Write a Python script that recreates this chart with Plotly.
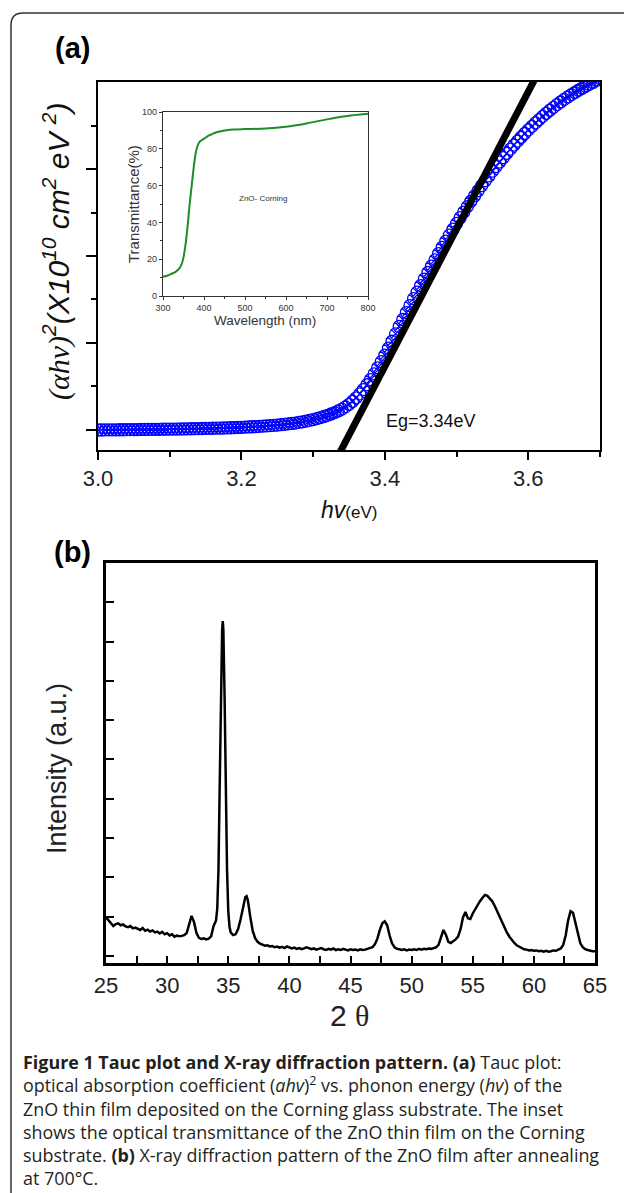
import plotly.graph_objects as go

W, H = 624, 1193
def px(x): return x / W
def py(y): return 1 - y / H

# ---------------- data: (a) Tauc plot ----------------
tauc_hv = [3.000,3.005,3.010,3.015,3.020,3.025,3.030,3.035,3.040,3.045,
           3.050,3.055,3.060,3.065,3.070,3.075,3.080,3.085,3.090,3.095,
           3.100,3.105,3.110,3.115,3.120,3.125,3.130,3.135,3.140,3.145,
           3.150,3.155,3.160,3.165,3.170,3.175,3.180,3.185,3.190,3.195,
           3.200,3.205,3.210,3.215,3.220,3.225,3.230,3.235,3.240,3.245,
           3.250,3.255,3.260,3.265,3.270,3.275,3.280,3.285,3.290,3.295,
           3.300,3.305,3.310,3.315,3.320,3.325,3.330,3.335,3.340,3.345,
           3.350,3.355,3.360,3.365,3.370,3.375,3.380,3.385,3.390,3.395,
           3.400,3.405,3.410,3.415,3.420,3.425,3.430,3.435,3.440,3.445,
           3.450,3.455,3.460,3.465,3.470,3.475,3.480,3.485,3.490,3.495,
           3.500,3.505,3.510,3.515,3.520,3.525,3.530,3.535,3.540,3.545,
           3.550,3.555,3.560,3.565,3.570,3.575,3.580,3.585,3.590,3.595,
           3.600,3.605,3.610,3.615,3.620,3.625,3.630,3.635,3.640,3.645,
           3.650,3.655,3.660,3.665,3.670,3.675,3.680,3.685,3.690,3.695,
           3.700]
tauc_ahv2 = [0.000,0.000,0.001,0.001,0.002,0.002,0.003,0.003,0.004,0.004,
             0.005,0.005,0.006,0.006,0.007,0.007,0.008,0.008,0.009,0.009,
             0.010,0.010,0.011,0.012,0.012,0.013,0.014,0.015,0.016,0.017,
             0.018,0.019,0.020,0.021,0.022,0.023,0.025,0.026,0.028,0.029,
             0.031,0.033,0.035,0.037,0.039,0.041,0.044,0.047,0.050,0.053,
             0.057,0.061,0.065,0.070,0.075,0.080,0.087,0.094,0.102,0.110,
             0.120,0.131,0.142,0.155,0.168,0.184,0.200,0.219,0.240,0.266,
             0.295,0.330,0.370,0.415,0.465,0.520,0.580,0.645,0.715,0.786,
             0.860,0.940,1.020,1.105,1.190,1.270,1.350,1.430,1.510,1.585,
             1.660,1.735,1.810,1.883,1.955,2.028,2.100,2.170,2.240,2.308,
             2.375,2.440,2.505,2.568,2.630,2.690,2.750,2.808,2.865,2.920,
             2.975,3.028,3.080,3.130,3.180,3.228,3.275,3.320,3.365,3.408,
             3.450,3.490,3.530,3.568,3.605,3.640,3.675,3.708,3.740,3.770,
             3.800,3.828,3.855,3.880,3.905,3.928,3.950,3.973,3.995,4.018,
             4.040]
fit_hv = [3.33, 3.62]
fit_ahv2 = [-0.374, 4.205]

# inset: transmittance
inset_wl = [300, 310, 320, 330, 340, 345, 350, 355, 360, 365, 370, 375, 380, 385,
            390, 400, 410, 420, 430, 450, 470, 500, 550, 600, 650, 700, 750, 800]
inset_T = [10.5, 11, 12, 13, 15, 17, 21, 28, 38, 50, 60, 70, 78, 82,
           84, 85.5, 87, 88, 89, 90, 90.5, 90.7, 91, 92, 93.8, 96, 97.8, 99]

# ---------------- data: (b) XRD ----------------
xrd_2theta = [
    25.0,25.2,25.4,25.6,25.8,26.0,26.2,26.4,26.6,26.8,
    27.0,27.2,27.4,27.6,27.8,28.0,28.2,28.4,28.6,28.8,
    29.0,29.2,29.4,29.6,29.8,30.0,30.2,30.4,30.6,30.8,
    31.0,31.2,31.4,31.6,31.8,32.0,32.2,32.4,32.6,32.8,
    33.0,33.2,33.4,33.6,33.8,
    34.0,34.1,34.2,34.3,34.4,34.5,34.55,34.6,34.7,34.8,34.9,35.0,35.1,
    35.2,35.4,35.6,35.8,36.0,36.2,36.4,36.5,36.6,36.8,
    37.0,37.2,37.4,37.6,37.8,38.0,38.2,38.4,38.6,38.8,
    39.0,39.2,39.4,39.6,39.8,40.0,40.2,40.4,40.6,40.8,
    41.0,41.2,41.4,41.6,41.8,42.0,42.2,42.4,42.6,42.8,
    43.0,43.2,43.4,43.6,43.8,44.0,44.2,44.4,44.6,44.8,
    45.0,45.2,45.4,45.6,45.8,46.0,46.2,46.4,46.6,46.8,
    47.0,47.2,47.4,47.6,47.8,48.0,48.2,48.4,48.6,48.8,
    49.0,49.2,49.4,49.6,49.8,50.0,50.2,50.4,50.6,50.8,
    51.0,51.2,51.4,51.6,51.8,52.0,52.2,52.4,52.6,52.8,
    53.0,53.2,53.4,53.6,53.8,54.0,54.2,54.4,54.6,54.8,
    55.0,55.2,55.4,55.6,55.8,56.0,56.2,56.4,56.6,56.8,
    57.0,57.2,57.4,57.6,57.8,58.0,58.2,58.4,58.6,58.8,
    59.0,59.2,59.4,59.6,59.8,60.0,60.2,60.4,60.6,60.8,
    61.0,61.2,61.4,61.6,61.8,62.0,62.2,62.4,62.6,62.8,
    63.0,63.2,63.4,63.6,63.8,64.0,64.2,64.4,64.6,64.8,
    65.0]
xrd_intensity = [
    0.98,0.90,0.85,0.76,0.81,0.83,0.78,0.80,0.75,0.73,
    0.76,0.70,0.72,0.68,0.66,0.71,0.64,0.67,0.62,0.65,
    0.60,0.62,0.57,0.61,0.55,0.58,0.52,0.55,0.49,0.52,
    0.50,0.51,0.53,0.58,0.78,1.02,0.86,0.58,0.46,0.43,
    0.45,0.42,0.44,0.50,0.76,
    0.90,1.20,2.2,4.3,6.8,8.3,8.52,8.3,6.6,4.2,2.2,1.15,0.75,
    0.60,0.53,0.55,0.68,0.92,1.25,1.50,1.52,1.42,1.00,
    0.64,0.45,0.36,0.31,0.29,0.26,0.27,0.24,0.25,0.22,
    0.24,0.21,0.23,0.20,0.24,0.22,0.19,0.21,0.18,0.20,
    0.17,0.19,0.22,0.20,0.17,0.19,0.16,0.18,0.20,0.17,
    0.15,0.18,0.16,0.19,0.15,0.17,0.15,0.18,0.16,0.14,
    0.17,0.15,0.16,0.14,0.17,0.15,0.16,0.18,0.19,0.22,
    0.30,0.44,0.66,0.83,0.88,0.78,0.52,0.32,0.22,0.18,
    0.17,0.15,0.17,0.14,0.16,0.15,0.17,0.15,0.18,0.16,
    0.18,0.17,0.19,0.18,0.20,0.22,0.28,0.48,0.66,0.54,
    0.36,0.33,0.37,0.42,0.49,0.68,0.98,1.12,0.96,0.94,
    1.08,1.20,1.30,1.40,1.48,1.55,1.53,1.47,1.39,1.27,
    1.13,0.99,0.85,0.71,0.59,0.49,0.40,0.33,0.27,0.23,
    0.20,0.17,0.16,0.14,0.15,0.13,0.14,0.12,0.13,0.11,
    0.13,0.11,0.12,0.14,0.13,0.15,0.19,0.28,0.52,0.90,
    1.14,1.10,0.82,0.52,0.32,0.22,0.17,0.15,0.13,0.12,
    0.12]

a_xticks = [3.0, 3.2, 3.4, 3.6]
a_xticklabels = ["3.0", "3.2", "3.4", "3.6"]
b_xticks = [25, 30, 35, 40, 45, 50, 55, 60, 65]

caption_lines = [
    "<b>Figure 1 Tauc plot and X-ray diffraction pattern. (a)</b> Tauc plot:",
    "optical absorption coefficient (<i>ahv</i>)<sup>2</sup> vs. phonon energy (<i>hv</i>) of the",
    "ZnO thin film deposited on the Corning glass substrate. The inset",
    "shows the optical transmittance of the ZnO thin film on the Corning",
    "substrate. <b>(b)</b> X-ray diffraction pattern of the ZnO film after annealing",
    "at 700°C.",
]

# ---------------- figure ----------------
fig = go.Figure()

fig.add_trace(go.Scatter(
    x=tauc_hv, y=tauc_ahv2, mode="markers", xaxis="x", yaxis="y",
    marker=dict(symbol="circle-x-open", size=12, color="#0000ff", line=dict(width=1.3)),
    showlegend=False, cliponaxis=True))
fig.add_trace(go.Scatter(
    x=fit_hv, y=fit_ahv2, mode="lines", xaxis="x", yaxis="y",
    line=dict(color="black", width=7), showlegend=False))
fig.add_trace(go.Scatter(
    x=inset_wl, y=inset_T, mode="lines", xaxis="x2", yaxis="y2",
    line=dict(color="#1e8c28", width=2, shape="spline", smoothing=0.6), showlegend=False))
fig.add_trace(go.Scatter(
    x=xrd_2theta, y=xrd_intensity, mode="lines", xaxis="x3", yaxis="y3",
    line=dict(color="black", width=2.5), showlegend=False))

tickfont_main = dict(family="Liberation Sans", size=22, color="#222")
inset_font = dict(family="Liberation Sans", size=9, color="#333")

fig.update_layout(
    width=W, height=H,
    margin=dict(l=0, r=0, t=0, b=0, pad=0),
    paper_bgcolor="white", plot_bgcolor="white",
    font=dict(family="Liberation Sans", color="#222"),
    showlegend=False,
    xaxis=dict(domain=[px(98), px(600)], anchor="y", range=[3.0, 3.7],
               tickmode="array", tickvals=a_xticks, ticktext=a_xticklabels,
               ticks="outside", ticklen=8, tickwidth=2, tickcolor="black",
               showline=True, linewidth=2, linecolor="black", mirror=True,
               minor=dict(tickvals=[3.1, 3.3, 3.5, 3.7], ticks="outside", ticklen=5,
                          tickwidth=2, tickcolor="black"),
               showgrid=False, zeroline=False, tickfont=tickfont_main, automargin=False),
    yaxis=dict(domain=[py(450), py(82)], anchor="x", range=[-0.23, 4.0],
               tickmode="array", tickvals=[0, 1, 2, 3], showticklabels=False,
               ticks="outside", ticklen=10, tickwidth=2, tickcolor="black",
               showline=True, linewidth=2, linecolor="black", mirror=True,
               minor=dict(tickvals=[0.5, 1.5, 2.5, 3.5], ticks="outside", ticklen=5,
                          tickwidth=2, tickcolor="black"),
               showgrid=False, zeroline=False, automargin=False),
    xaxis2=dict(domain=[px(163), px(368)], anchor="y2", range=[300, 800],
                tickmode="array", tickvals=[300, 400, 500, 600, 700, 800],
                ticks="outside", ticklen=3, tickwidth=1, tickcolor="#333",
                showline=True, linewidth=1.3, linecolor="#333", mirror=True,
                minor=dict(tickvals=[350, 450, 550, 650, 750], ticks="outside",
                           ticklen=2, tickwidth=1, tickcolor="#333"),
                showgrid=False, zeroline=False, tickfont=inset_font, automargin=False),
    yaxis2=dict(domain=[py(296), py(112)], anchor="x2", range=[0, 100],
                tickmode="array", tickvals=[0, 20, 40, 60, 80, 100],
                ticks="outside", ticklen=3, tickwidth=1, tickcolor="#333",
                showline=True, linewidth=1.3, linecolor="#333", mirror=True,
                minor=dict(tickvals=[10, 30, 50, 70, 90], ticks="outside",
                           ticklen=2, tickwidth=1, tickcolor="#333"),
                showgrid=False, zeroline=False, tickfont=inset_font, automargin=False),
    xaxis3=dict(domain=[px(106), px(595)], anchor="y3", range=[25, 65],
                tickmode="array", tickvals=b_xticks,
                ticks="inside", ticklen=7, tickwidth=2, tickcolor="black",
                showline=True, linewidth=2.5, linecolor="black", mirror=True,
                minor=dict(dtick=2.5, tick0=25, ticks="inside", ticklen=7,
                           tickwidth=2, tickcolor="black"),
                ticklabelstandoff=1,
                showgrid=False, zeroline=False, tickfont=tickfont_main, automargin=False),
    yaxis3=dict(domain=[py(963), py(563)], anchor="x3", range=[-0.18, 10.0],
                tickmode="array", tickvals=[0, 1, 2, 3, 4, 5, 6, 7, 8, 9], showticklabels=False,
                ticks="inside", ticklen=8, tickwidth=2, tickcolor="black",
                showline=True, linewidth=2.5, linecolor="black", mirror=True,
                showgrid=False, zeroline=False, automargin=False),
)

ann = []
def text(X, Y, s, size, angle=0, xanchor="center", family="Liberation Sans", color="#111",
         align="center"):
    ann.append(dict(xref="paper", yref="paper", x=px(X), y=py(Y), text=s,
                    showarrow=False, xanchor=xanchor, yanchor="middle", align=align,
                    textangle=angle, font=dict(family=family, size=size, color=color)))

text(72, 48, "<b>(a)</b>", 29, color="#000")
text(72, 552, "<b>(b)</b>", 29, color="#000")
text(57, 251, "<i><span style='font-family:Liberation Serif'>(αhν)</span><sup>2</sup>(X10<sup>10</sup> cm<sup>2</sup> eV <sup>2</sup>)</i>",
     30, angle=-90)
text(431, 421, "Eg=3.34eV", 18)
text(349, 510, "<i>hv</i><span style='font-size:17px'>(eV)</span>", 23)
text(134, 204, "Transmittance(%)", 15, angle=-90, color="#333")
text(265, 320, "Wavelength (nm)", 13.5, color="#333")
text(263, 198, "ZnO- Corning", 8, color="#333")
text(57, 769, "Intensity (a.u.)", 27, angle=-90, color="#222")
text(349, 1015, "2 <span style='font-family:Liberation Serif'>θ</span>", 30, color="#222")

# caption as one multi-line block
text(21, 1120, "<br>".join(caption_lines), 17.9, xanchor="left", family="Open Sans",
     color="#231f20", align="left")

fig.update_layout(annotations=ann)

# outer rounded frame
fig.add_shape(type="path", xref="paper", yref="paper",
              path=f"M {px(11)},{py(1200)} L {px(11)},{py(25)} Q {px(11)},{py(13)} {px(23)},{py(13)} L {px(630)},{py(13)}",
              line=dict(color="#333", width=1.5))

fig.write_html("out.html", config={"displayModeBar": False},
               post_script="document.body.style.margin='0px';document.body.style.overflow='hidden';")
